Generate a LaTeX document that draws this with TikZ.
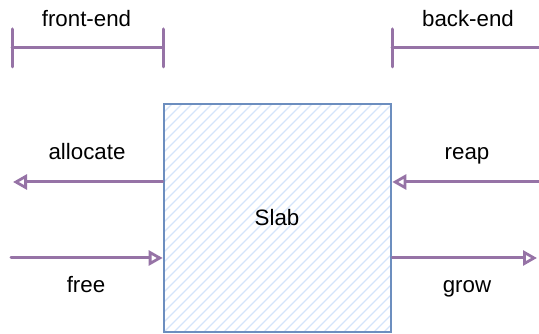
\documentclass[tikz,border=0pt]{standalone}
\usepackage{fontspec}
\setmainfont{Liberation Sans}
\usetikzlibrary{arrows.meta}
\definecolor{flowpurple}{HTML}{9673A6}
\definecolor{slabstroke}{HTML}{6C8EBF}
\definecolor{slabhatch}{HTML}{D4E4FA}
\tikzset{
  lbl/.style={font=\fontsize{22.3}{26}\selectfont, inner sep=0pt, anchor=base},
  flow/.style={draw=flowpurple, line width=3pt, line cap=round,
    -{Triangle[open, length=14pt, width=15pt, line width=2.8pt]}},
  bracket/.style={draw=flowpurple, line width=3pt, line cap=round},
  slabbox/.style={draw=slabstroke, line width=2.6pt, minimum width=227pt,
    minimum height=228pt, inner sep=0pt}
}
\begin{document}
\begin{tikzpicture}[x=1pt,y=1pt]
  \useasboundingbox (0,0) rectangle (539,334);

  % hatched fill of the slab
  \begin{scope}
    \clip (164,2) rectangle (391,230);
    \foreach \k in {-240,-230,...,240} {
      \draw[slabhatch, line width=1.3pt] (164+\k,2) -- ++(240,240);
    }
  \end{scope}
  \node[slabbox] (slab) at (277.5,116) {};
  \node[lbl] (slabtxt) at (277,108) {Slab};

  % front-end / back-end ranges
  \coordinate (feL) at (12,286);
  \coordinate (feR) at (163,286);
  \coordinate (beL) at (392,286);
  \coordinate (beR) at (539,286);
  \draw[bracket] (feL) -- (feR);
  \draw[bracket] ([yshift=-19pt]feL) -- ([yshift=19pt]feL);
  \draw[bracket] ([yshift=-19pt]feR) -- ([yshift=19pt]feR);
  \draw[bracket] (beL) -- (beR);
  \draw[bracket] ([yshift=-19pt]beL) -- ([yshift=19pt]beL);
  \node[lbl] (fetxt) at (86.5,307) {front-end};
  \node[lbl] (betxt) at (468,307) {back-end};

  % operations
  \coordinate (allocEnd) at (13,152);
  \coordinate (freeStart) at (11,76);
  \coordinate (reapStart) at (539,152);
  \coordinate (growEnd) at (537,76);
  \draw[flow] (slab.west |- allocEnd) -- (allocEnd);
  \draw[flow] (freeStart) -- (slab.west |- freeStart);
  \draw[flow] (reapStart) -- (slab.east |- reapStart);
  \draw[flow] (slab.east |- growEnd) -- (growEnd);
  \node[lbl] (alloctxt) at (87,174) {allocate};
  \node[lbl] (freetxt) at (86,41) {free};
  \node[lbl] (reaptxt) at (467,174) {reap};
  \node[lbl] (growtxt) at (467,41) {grow};
\end{tikzpicture}
\end{document}
